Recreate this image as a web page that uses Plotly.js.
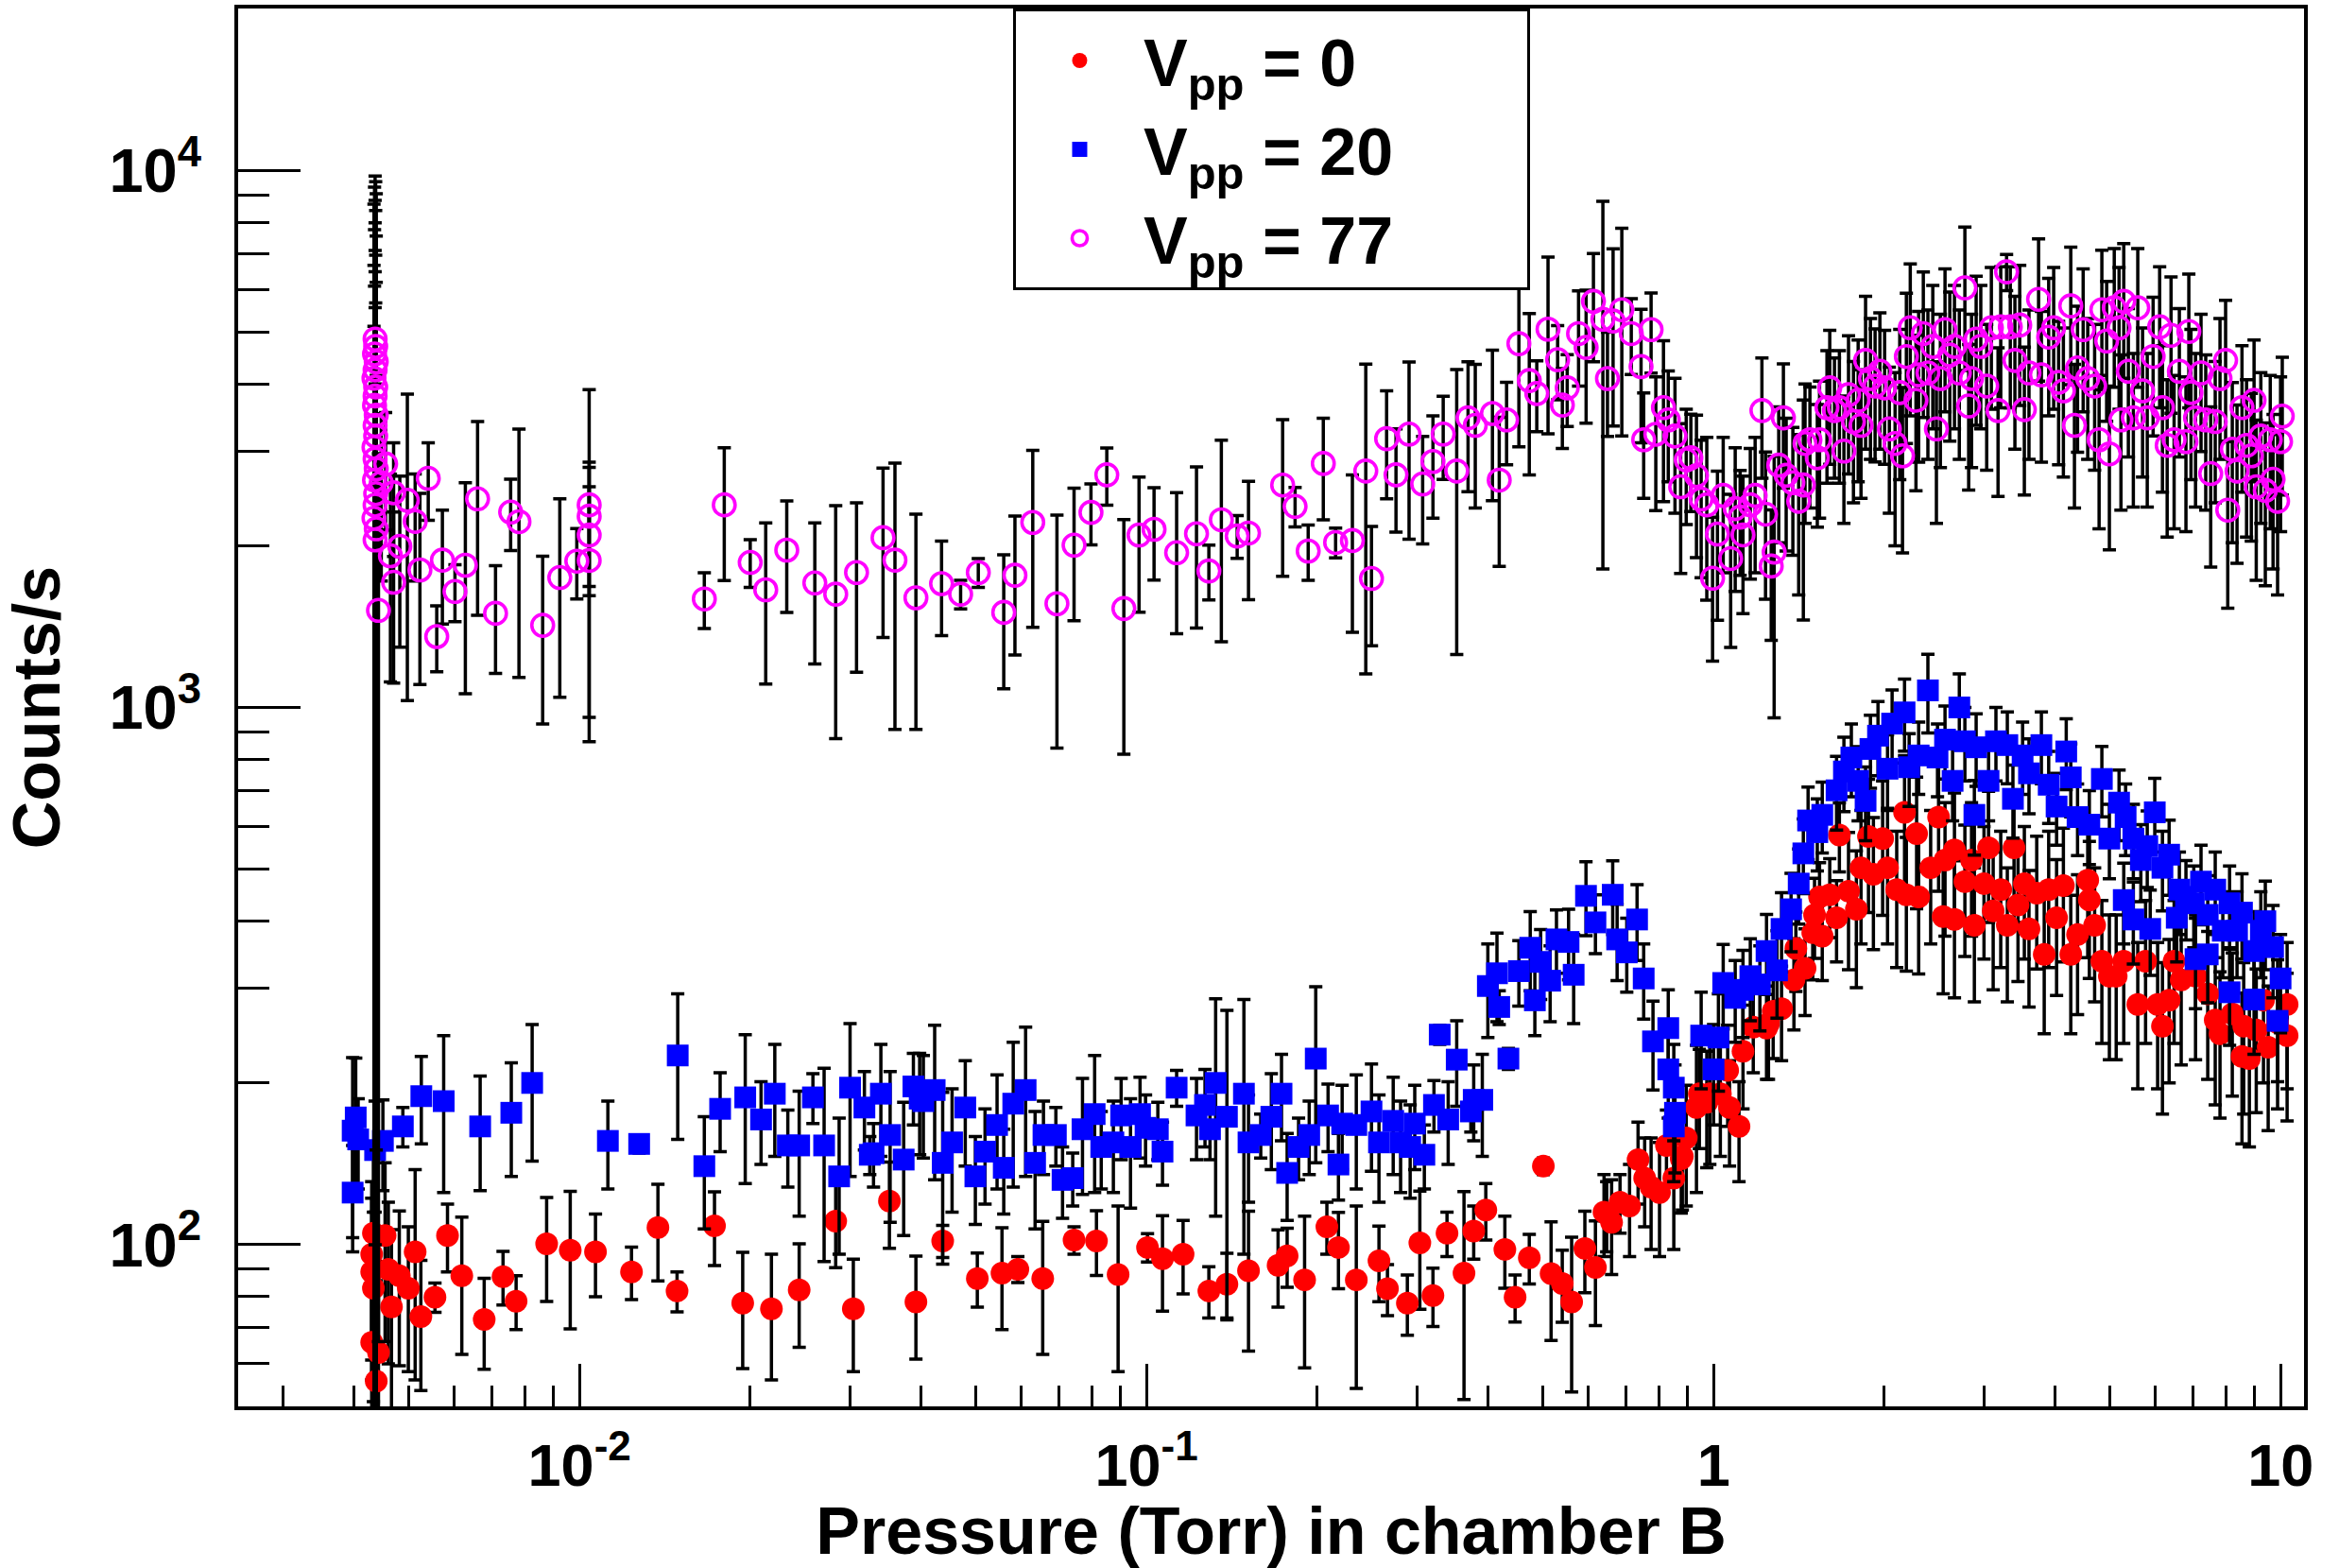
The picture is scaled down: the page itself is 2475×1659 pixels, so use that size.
<!DOCTYPE html>
<html><head><meta charset="utf-8">
<script src="https://cdn.plot.ly/plotly-3.0.1.min.js"></script>
<style>html,body{margin:0;padding:0;background:#fff;}#chart{width:2475px;height:1659px;}</style>
</head><body><div id="chart"></div>
<script>
// ---- Vpp = 0 (red) ----
const p0 = [0.00433,0.00454,0.0043,0.0043,0.0046,0.00481,0.00499,0.00466,0.00433,0.0043,0.00442,0.00438,0.00513,0.00525,0.00556,0.00585,0.0062,0.00679,0.00733,0.00773,0.00875,0.00963,0.01067,0.01235,0.01375,0.01486,0.0173,0.0194,0.0218,0.0244,0.0283,0.0304,0.0352,0.0392,
0.0437,0.0503,0.0556,0.0593,0.0656,0.0745,0.0816,0.0891,0.1004,0.1067,0.116,0.1288,0.1386,0.1513,0.1706,0.177,0.19,0.208,0.218,0.2344,0.257,0.266,0.2884,0.3034,0.32,0.3388,0.363,0.3776,0.3966,0.4285,0.4467,0.4732,0.501,0.517,0.541,0.562,0.593,0.619,0.641,
0.648,0.661,0.684,0.711,0.736,0.756,0.776,0.803,0.826,0.851,0.877,0.881,0.895,0.933,0.944,0.973,0.985,1.028,1.059,1.067,1.109,1.127,1.175,1.24,1.25,1.274,1.318,1.386,1.397,1.45,1.496,1.507,1.538,1.555,1.603,1.648,1.667,
1.73,1.786,1.82,1.876,1.914,1.987,2.027,2.104,2.172,2.188,2.281,2.30,2.415,2.494,2.541,2.56,2.66,2.66,2.775,2.851,2.884,2.999,3.055,3.113,3.21,3.297,3.388,3.443,3.533,3.60,3.715,3.83,3.90,4.027,4.14,4.266,4.385,4.57,4.60,4.70,4.84,4.99,5.13,5.29,5.60,5.78,6.07,6.19,6.36,6.49,6.68,7.08,7.44,7.67,7.82,8.22,8.55,8.61,8.81,9.06,9.33,9.51,9.88,10.27,10.27];
const c0 = [105,104,96,89,90,87.5,83,76.6,83,65.8,63,55.7,97,73.5,79.8,104,87.5,72.6,87.2,78.5,100.4,97.7,97,89,107.6,82,108.4,77.8,76,82.4,110.6,76,120.5,78.2,
101.6,86.5,88.5,90,86.5,102,101.6,88,98.8,94.2,96,82,84.4,89.4,91.5,95.3,86,108,98.8,86,93.3,82.8,77.8,100.8,80.4,105,88.5,106,116,98,79.8,94.5,140,88.3,84.7,78.2,98.4,90.7,115,
114,110,120,118,144,133,128,125,153,133,144.5,146,158,180,191,184,191,191,211,180,166,229,254,253,258,272,275,311,356,327,381,411,444,375,448,406,579,
455,421,503,575,489,570,503,458,638,448,582,444,503,625,408,520,543,403,474,520,393,470,548,418,458,393,548,429,470,387,451,347,458,406,466,347,378,477,438,393,337,316,316,337,280,337,280,255,285,337,311,316,293,262,247,269,224,255,222,251,285,233,259,280,245];
const e0 = [40,38,35,33,30,28,25,30,32,30,30,30,41,20,5,15,25,14,10,9,22,28,17,10,22,7,17,19,20,18,20,18,22,17,
7,10,19,5,24,6,14,30,6,19,15,9,12,26,15,12,27,12,16,32,15,9,10,25,10,10,37,12,14,15,8,10,5,22,13,25,17,20,20,
17,22,15,23,25,25,30,30,25,35,30,30,40,55,40,45,50,45,45,40,35,50,45,50,55,50,55,60,60,60,70,70,70,65,75,70,85,
130,120,140,160,135,160,140,130,175,125,160,125,140,170,115,145,150,115,130,145,110,130,150,120,130,110,150,120,130,110,125,100,130,115,130,100,110,135,125,110,100,95,95,100,85,100,85,80,85,100,95,95,90,80,75,80,70,80,70,75,85,70,80,85,75];

// ---- Vpp = 20 (blue) ----
const p1 = [0.00398,0.00403,0.00407,0.00398,0.00436,0.0045,0.00488,0.00526,0.00576,0.00668,0.00758,0.00825,
0.01122,0.01274,0.0149,0.0166,0.0177,0.0196,0.0209,0.0221,0.0233,0.0244,0.0258,0.027,0.0287,0.03,0.0318,0.0325,0.033,0.034,0.0353,0.0373,
0.0388,0.0398,0.0404,0.0423,0.0437,0.0454,0.0479,0.0499,0.0519,0.0545,0.056,0.0582,0.0612,0.0636,0.0658,0.0692,0.0711,0.0741,0.0771,0.081,
0.0832,0.0874,0.0902,0.0937,0.0974,0.0996,0.1047,0.1067,0.113,0.1225,0.1268,0.1294,0.1324,0.1386,0.1485,0.1513,0.159,0.166,0.173,0.177,
0.1854,0.1936,0.1988,0.209,0.218,0.2213,0.2344,0.2493,0.257,0.2723,0.2806,0.2917,0.2972,0.309,0.3213,0.3289,0.3404,0.3524,0.3732,0.3776,
0.391,0.3999,0.415,0.4188,0.4347,0.4536,0.475,0.484,0.4955,0.515,0.5284,0.555,0.5666,0.5957,0.619,
0.664,0.676,0.703,0.733,0.753,0.782,0.832,0.832,0.851,0.855,0.851,0.951,1.0,1.02,1.04,1.092,1.127,1.161,1.207,1.24,
1.294,1.318,1.37,1.413,1.44,1.468,1.524,1.555,1.648,1.698,1.75,1.799,1.854,1.891,1.95,2.027,2.065,2.172,2.213,2.30,
2.388,2.483,2.56,2.64,2.713,2.775,2.884,2.905,3.055,3.148,3.297,3.373,3.508,3.60,3.786,3.90,4.027,4.188,4.266,4.385,
4.60,4.84,4.99,5.19,5.29,5.33,5.50,5.50,5.67,5.82,5.89,6.0,6.19,6.36,6.56,6.63,6.81,7.03,7.08,7.24,
7.44,7.44,7.67,7.91,8.13,8.13,8.38,8.55,8.98,8.98,9.23,9.40,9.70,9.88,10.0];
const c1 = [163,172.5,157,125,150,156,166,189,185,166,176,200,
156,154,225,140,179,188,171,191,153,153,188,153,134,196,180,147,148,191,160,144,
197,187,185,194,142,155,180,134,149,167,139,183,194,142,160,160,132,133,164,175,
152,155,174,152,175,165,164,149,196,174,182,164,200,173,191,155,160,173,191,136,
152,160,222,174,141,168,167,177,155,170,155,152,168,147,182,246,171,221,177,186,
186,303,320,277,222,323,357,285,336,310,370,366,318,446,398,
448,370,350,403,313,239,253,212,196,176,166,245,212,243,307,288,298,316,305,352,
324,387,421,470,535,616,586,631,701,760,807,730,670,837,886,769,933,979,774,814,
1076,807,871,730,1000,865,631,843,730,865,851,676,814,754,851,718,654,828,741,625,
605,736,570,665,438,625,570,403,520,552,387,638,503,532,406,458,444,432,340,474,
411,347,458,384,432,295,384,415,352,286,384,400,358,261,313];
const e1 = [60,50,30,28,35,30,14,35,60,40,42,57,
29,6,68,33,30,58,30,45,25,40,20,60,38,62,30,12,20,45,50,40,
30,40,40,62,50,40,40,25,30,40,25,55,60,35,25,20,20,15,40,50,
25,30,30,35,30,25,20,20,15,30,30,20,87,100,95,35,15,35,35,25,
20,25,80,25,20,30,40,40,35,35,30,30,30,20,20,10,30,40,15,30,
40,60,60,20,10,45,60,40,50,50,50,55,60,70,50,
70,60,55,65,50,45,45,40,40,40,35,50,45,50,55,50,55,55,55,60,
60,65,70,75,85,95,90,95,110,120,125,115,105,130,140,120,145,150,120,125,
180,125,135,115,155,135,100,130,115,135,130,105,125,120,130,110,100,125,115,95,
95,110,90,100,75,95,90,70,85,90,70,100,85,85,70,80,75,75,65,80,
75,65,80,70,75,60,70,75,65,60,70,75,70,60,65];

// ---- Vpp = 77 (magenta) ----
const p2 = [0.00436,0.00437,0.00435,0.00438,0.00436,0.00434,0.00437,0.00436,0.00435,0.00438,0.00436,0.00437,0.00434,0.00436,0.00438,0.00435,0.00437,0.00436,0.00434,0.00438,0.00436,0.00442,
0.00455,0.0047,0.00447,0.00497,0.00513,0.00482,0.00464,0.00523,0.0047,0.00541,0.00573,0.0056,0.00603,0.00629,0.00661,0.00711,0.00756,0.00782,0.00861,0.00923,0.00989,0.0104,0.0104,0.0104,0.0104,0.0166,0.018,0.02,0.0213,0.0232,0.026,0.0283,
0.0308,0.0343,0.036,0.0392,0.0435,0.047,0.0505,0.056,0.0586,0.063,0.0695,0.0745,0.0798,0.0851,0.0912,0.097,0.1031,0.113,0.1225,0.1288,0.1355,0.1445,0.1513,0.1738,0.1828,0.1928,0.205,0.2155,0.2307,0.2436,0.2493,0.2651,0.2754,0.2904,0.3069,0.32,0.3336,0.3524,0.369,0.38,0.4074,0.4188,0.4315,0.4536,0.4732,0.4878,0.5106,0.5309,0.5412,
0.552,0.578,0.596,0.614,0.638,0.65,0.665,0.689,0.716,0.745,0.776,
0.753,0.791,0.816,0.832,0.855,0.875,0.895,0.912,0.933,0.951,0.973,0.996,1.016,1.04,1.072,1.092,1.114,1.127,1.161,1.184,1.217,1.235,1.264,1.279,1.303,1.328,1.343,1.38,1.413,1.44,
1.45,1.479,1.524,1.538,1.585,1.603,1.634,1.667,1.698,1.73,1.765,1.799,1.82,1.854,1.891,1.927,1.965,2.003,2.042,2.09,
2.13,2.154,2.188,2.223,2.275,2.30,2.344,2.388,2.436,2.472,2.512,2.56,2.61,2.66,2.713,2.775,2.818,2.851,2.905,2.96,
3.032,3.09,3.175,3.21,3.287,3.337,3.40,3.467,3.533,3.60,3.743,3.786,3.90,3.98,4.06,4.14,4.266,4.33,4.385,4.486,
4.57,4.70,4.786,4.84,4.935,4.99,5.09,5.19,5.23,5.29,5.39,5.50,5.60,5.71,5.82,5.96,6.12,6.19,6.31,6.41,
6.49,6.63,6.81,6.89,6.95,7.08,7.24,7.38,7.53,7.67,7.82,8.0,8.07,8.22,8.38,8.55,8.71,8.88,8.98,9.06,
9.23,9.40,9.59,9.70,9.88,10.0,10.07];
const c2 = [4850,4700,4550,4400,4250,4100,3950,3800,3650,3500,3350,3200,3050,2900,2780,2650,2500,2380,2250,2150,2050,1516,
2840,2510,2620,2430,2220,1995,1916,1803,1710,2670,1880,1355,1644,1840,2445,1497,2310,2217,1422,1745,1872,2383,2270,2094,1878,1592,2383,1862,1656,1963,1705,1625,
1783,2070,1880,1600,1700,1625,1783,1503,1762,2210,1560,2005,2307,2710,1528,2094,2146,1941,2105,1795,2235,2085,2112,2594,2367,1955,2845,2028,2045,2755,1738,3165,2710,3227,2606,2870,3227,2755,3460,3350,3525,2650,3430,4755,4060,3840,5060,4440,3655,
3935,4965,4680,5700,5280,4095,5240,5500,4965,4310,5050,
3150,3225,3615,3430,3200,2575,2890,2915,2700,2443,2383,1740,2103,2482,1893,2345,2261,2095,2383,2482,3570,2290,1833,1946,2825,3460,2705,2620,2420,2595,
3100,3150,2915,3150,3615,3935,3570,3615,3000,3820,3405,3730,3350,4425,4095,3965,4225,3935,3300,3100,
3855,2940,4500,5090,3730,4160,4965,4195,4700,3300,4095,5050,4530,4700,4195,6040,3640,4095,4850,4700,
3965,5090,3570,5110,6470,5110,4425,5150,3585,4195,5750,4160,4890,5090,4030,3885,5590,3350,4285,5050,
4095,3965,3150,5500,4810,2965,5545,5090,3430,5700,4225,3460,5545,3885,3460,4500,5110,3615,3075,4930,
3150,4225,3125,5010,3855,3460,4195,3430,2725,3405,4095,4425,2330,3025,2755,3615,3075,2940,3730,2575,
3200,2535,3150,2660,2420,3125,3485];
const e2 = [4900,4820,4750,4640,4540,4550,4460,4180,4100,4040,3740,3750,3600,3570,3405,3435,3160,3170,2870,2000,1950,1450,
700,600,900,1400,500,700,800,700,600,440,450,190,200,780,960,340,350,1080,490,700,280,1520,590,480,920,190,660,190,550,460,500,750,
620,720,970,690,340,100,110,420,510,800,720,555,300,330,710,590,420,570,700,210,910,190,525,840,200,230,610,130,665,1600,435,720,590,1170,590,620,570,1500,940,1000,1100,820,600,1700,1350,580,1830,700,620,
600,1000,1300,1300,3470,900,1900,2300,800,1200,860,
700,900,1200,800,900,800,700,600,800,700,800,520,650,700,600,700,500,600,650,700,900,700,500,990,800,900,750,700,800,1140,
900,800,750,900,1000,1100,900,1000,800,1100,1000,1100,900,1400,1200,1100,1200,1100,1000,1100,
1200,1000,1400,1600,1200,1300,1500,1300,1400,1100,1300,1500,1400,1400,1300,1800,1100,1300,1500,1400,
1200,1500,1100,1500,500,1500,1400,1500,1100,1300,1700,1300,1400,1500,1200,1200,1600,1000,1300,1500,
1200,1200,1000,1600,1400,1000,1600,1500,1100,1600,1300,1100,1600,1200,1100,1300,1500,1100,1000,1400,
1000,1300,1000,1400,1200,1100,1200,1100,900,1000,1200,1300,800,1000,900,1100,1000,900,1100,850,
1000,850,1000,850,800,1000,1000];

const PAD = '\u00a0\u00a0\u00a0\u00a0\u00a0\u00a0\u00a0';
const names = ['V<sub>pp</sub> = 0','V<sub>pp</sub> = 20','V<sub>pp</sub> = 77'];
const xMajor = [0.01,0.1,1,10];
const xMajorText = ['10<sup>-2</sup>','10<sup>-1</sup>','1','10'];
const yMajor = [100,1000,10000];
const yMajorText = ['10<sup>2</sup>','10<sup>3</sup>','10<sup>4</sup>'];

const FONT = 'Liberation Sans, Arial, Helvetica, sans-serif';
function minorTicks(lo, hi){
  const out=[];
  for(let d=-4; d<=5; d++){ for(let k=2;k<=9;k++){ const v=k*Math.pow(10,d); if(v>lo && v<hi) out.push(v);} }
  return out;
}
const xr=[0.0025,11], yr=[50,20000];
const errStyle = arr => ({type:'data', array:arr, visible:true, color:'#000000', thickness:3.5, width:7});
const traces = [
  {type:'scatter', mode:'markers', name:names[0]+PAD, x:p0, y:c0, error_y:errStyle(e0),
   marker:{symbol:'circle', size:24, color:'#ff0000', line:{width:0}}},
  {type:'scatter', mode:'markers', name:names[1]+PAD, x:p1, y:c1, error_y:errStyle(e1),
   marker:{symbol:'square', size:23, color:'#0000ff', line:{width:0}}},
  {type:'scatter', mode:'markers', name:names[2]+PAD, x:p2, y:c2, error_y:errStyle(e2),
   marker:{symbol:'circle-open', size:23, color:'#ff00ff', line:{width:3.6, color:'#ff00ff'}}}
];
const axisCommon = {showline:true, linewidth:4, linecolor:'#000', mirror:true, showgrid:false, zeroline:false,
  ticks:'inside', tickwidth:3, tickcolor:'#000'};
const layout = {
  width:2475, height:1659, paper_bgcolor:'#fff', plot_bgcolor:'#fff',
  margin:{l:252, r:37, t:9, b:171, pad:0},
  showlegend:true,
  xaxis:Object.assign({}, axisCommon, {type:'log', range:[Math.log10(xr[0]), Math.log10(xr[1])],
    tickmode:'array', tickvals:xMajor, ticktext:xMajorText, ticklen:45, ticklabelstandoff:4,
    tickfont:{family:FONT, size:63, color:'#000', weight:'bold'},
    minor:{tickmode:'array', tickvals:minorTicks(xr[0],xr[1]), ticks:'inside', ticklen:22, tickwidth:3, tickcolor:'#000', showgrid:false},
    title:{text:'Pressure (Torr) in chamber B', font:{family:FONT, size:70, color:'#000', weight:'bold'}, standoff:13}}),
  yaxis:Object.assign({}, axisCommon, {type:'log', range:[Math.log10(yr[0]), Math.log10(yr[1])],
    tickmode:'array', tickvals:yMajor, ticktext:yMajorText, ticklen:66, ticklabelstandoff:22,
    tickfont:{family:FONT, size:65, color:'#000', weight:'bold'},
    minor:{tickmode:'array', tickvals:minorTicks(yr[0],yr[1]).filter(v=>v<10000), ticks:'inside', ticklen:33, tickwidth:3, tickcolor:'#000', showgrid:false},
    title:{text:'Counts/s', font:{family:FONT, size:70, color:'#000', weight:'bold'}, standoff:34}}),
  legend:{x:0.3751, xanchor:'left', y:1, yanchor:'top', bgcolor:'#fff', bordercolor:'#000', borderwidth:3,
    font:{family:FONT, size:70, color:'#000', weight:'bold'}, itemwidth:125, tracegroupgap:0}
};
Plotly.newPlot('chart', traces, layout, {staticPlot:true, displayModeBar:false});
</script></body></html>
